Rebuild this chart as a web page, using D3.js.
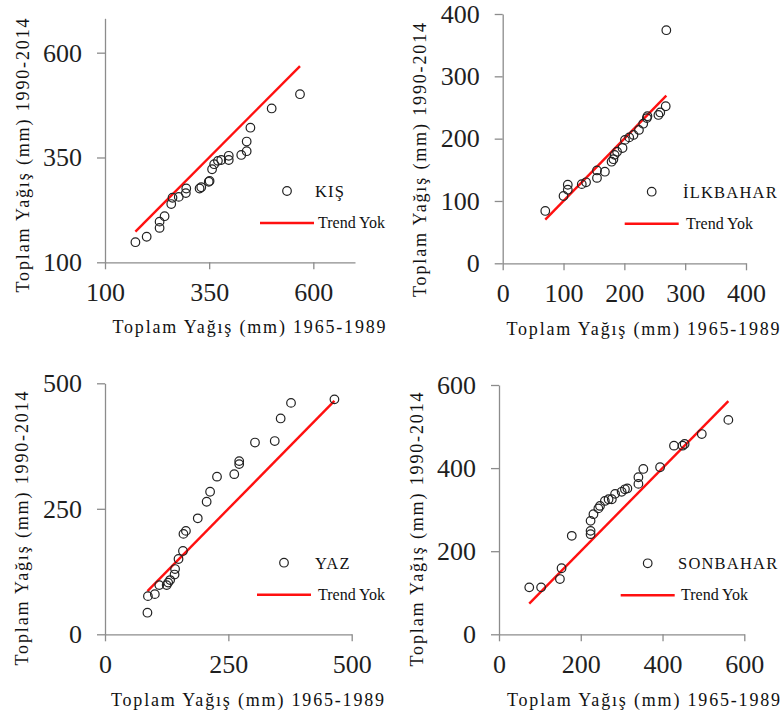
<!DOCTYPE html>
<html>
<head>
<meta charset="utf-8">
<title>Toplam Yağış Q-Q</title>
<style>
  body { margin: 0; background: #fff; }
  svg { display: block; }
  .axis path, .axis line { stroke: #8c8c8c; stroke-width: 1.3px; }
  .axis text { font-family: "Liberation Serif", "DejaVu Serif", serif; font-size: 26px; fill: #1f1f1f; }
  .title { font-family: "Liberation Serif", "DejaVu Serif", serif; font-size: 18px; fill: #111; }
  .leg { font-family: "Liberation Serif", "DejaVu Serif", serif; fill: #111; }
  .pt { fill: none; stroke: #222; stroke-width: 1.2px; }
  .trend { fill: none; stroke: #ff1010; stroke-width: 2.4px; }
</style>
<script src="https://d3js.org/d3.v7.min.js"></script>
</head>
<body>
<svg id="chart" width="783" height="720"></svg>
<script>
// values: 1965-1989 (x) vs 1990-2014 (y), mm
var kisX = [173, 200, 231, 231, 243, 259, 262, 277, 294, 295, 327, 331, 349, 351, 357, 362, 371, 379, 397, 397, 427, 440, 440, 449, 500, 568];
var kisY = [148, 161, 182, 197, 210, 239, 254, 256, 265, 276, 276, 279, 292, 294, 322, 334, 342, 344, 344, 354, 356, 365, 388, 421, 467, 501];

var ilkbaharX = [70, 100, 107, 107, 130, 137, 155, 155, 168, 179, 182, 184, 188, 197, 201, 208, 215, 224, 231, 237, 238, 256, 259, 268, 269];
var ilkbaharY = [84, 108, 118, 126, 127, 130, 137, 149, 147, 163, 167, 174, 179, 185, 198, 202, 206, 214, 224, 233, 236, 238, 242, 252, 374];

var yazX = [86, 87, 101, 110, 125, 128, 132, 141, 142, 149, 158, 159, 164, 188, 206, 213, 227, 262, 272, 272, 304, 344, 356, 377, 465];
var yazY = [43, 76, 80, 98, 98, 103, 108, 119, 130, 150, 166, 200, 206, 231, 264, 284, 314, 319, 339, 345, 382, 385, 430, 461, 468];

var sonbaharX = [74, 103, 149, 153, 178, 224, 224, 224, 231, 243, 247, 259, 268, 276, 284, 300, 308, 314, 341, 341, 353, 394, 428, 449, 454, 496, 561];
var sonbaharY = [113, 113, 133, 159, 237, 241, 249, 273, 289, 303, 309, 321, 325, 325, 338, 343, 349, 351, 362, 378, 398, 402, 454, 454, 458, 482, 516];

var seasonNames = ["KIŞ", "İLKBAHAR", "YAZ", "SONBAHAR"];
var trendName = "Trend Yok";
var xTitle = "Toplam Yağış (mm) 1965-1989";
var yTitle = "Toplam Yağış (mm) 1990-2014";

var kisTicks = [100, 350, 600];
var ilkbaharTicks = [0, 100, 200, 300, 400];
var yazTicks = [0, 250, 500];
var sonbaharTicks = [0, 200, 400, 600];

var svg = d3.select("#chart");

// panel layout (pixels)
var panels = [
  { xs: kisX, ys: kisY, name: seasonNames[0], ticks: kisTicks,
    xDom: [100, 700], yDom: [100, 682], xr: [105, 355], yr: [262.3, 18.3],
    xt: [249, 333], yt: [29, 155.5], leg: [287, 191], legText: 315 },
  { xs: ilkbaharX, ys: ilkbaharY, name: seasonNames[1], ticks: ilkbaharTicks,
    xDom: [0, 400], yDom: [0, 400], xr: [502.7, 746], yr: [263.3, 14],
    xt: [643, 335], yt: [426, 160], leg: [651.7, 191.7], legText: 683 },
  { xs: yazX, ys: yazY, name: seasonNames[2], ticks: yazTicks,
    xDom: [0, 500], yDom: [0, 500], xr: [105, 351.7], yr: [634.3, 383.3],
    xt: [247.5, 706], yt: [28, 528.5], leg: [284, 562.7], legText: 315 },
  { xs: sonbaharX, ys: sonbaharY, name: seasonNames[3], ticks: sonbaharTicks,
    xDom: [0, 600], yDom: [0, 600], xr: [499, 744.3], yr: [634.3, 385],
    xt: [643.5, 706], yt: [423, 529.5], leg: [647.7, 563.3], legText: 678 }
];

panels.forEach(function(p) {
  var x = d3.scaleLinear().domain(p.xDom).range(p.xr);
  var y = d3.scaleLinear().domain(p.yDom).range(p.yr);
  var g = svg.append("g");

  g.append("g")
    .attr("class", "axis")
    .attr("transform", "translate(0," + p.yr[0] + ")")
    .call(d3.axisBottom(x).tickValues(p.ticks).tickSize(7).tickPadding(13).tickSizeOuter(0));

  g.append("g")
    .attr("class", "axis")
    .attr("transform", "translate(" + p.xr[0] + ",0)")
    .call(d3.axisLeft(y).tickValues(p.ticks).tickSize(8).tickPadding(15).tickSizeOuter(0));

  g.selectAll(".axis").attr("font-family", null).attr("font-size", null);

  // 1:1 line over the range of x values
  var ext = d3.extent(p.xs);
  g.append("path")
    .attr("class", "trend")
    .attr("d", d3.line().x(function(d) { return x(d); }).y(function(d) { return y(d); })(ext));

  g.selectAll("circle.pt")
    .data(p.xs.map(function(v, i) { return [v, p.ys[i]]; }))
    .enter().append("circle")
    .attr("class", "pt")
    .attr("r", 4.3)
    .attr("cx", function(d) { return x(d[0]); })
    .attr("cy", function(d) { return y(d[1]); });

  // legend
  g.append("circle").attr("class", "pt").attr("r", 4.3)
    .attr("cx", p.leg[0]).attr("cy", p.leg[1]);
  g.append("text").attr("class", "leg")
    .attr("x", p.legText).attr("y", p.leg[1] + 6)
    .style("font-size", "16.5px").style("letter-spacing", "1.2px")
    .text(p.name);
  g.append("line").attr("class", "trend")
    .attr("x1", p.leg[0] - 27).attr("x2", p.leg[0] + 27)
    .attr("y1", p.leg[1] + 32).attr("y2", p.leg[1] + 32);
  g.append("text").attr("class", "leg")
    .attr("x", p.legText + 3).attr("y", p.leg[1] + 37)
    .style("font-size", "16px")
    .text(trendName);

  // axis titles
  g.append("text").attr("class", "title")
    .attr("x", p.xt[0]).attr("y", p.xt[1])
    .attr("text-anchor", "middle")
    .attr("textLength", 273).attr("lengthAdjust", "spacing")
    .text(xTitle);
  g.append("text").attr("class", "title")
    .attr("transform", "translate(" + p.yt[0] + "," + p.yt[1] + ") rotate(-90)")
    .attr("text-anchor", "middle")
    .attr("textLength", 274).attr("lengthAdjust", "spacing")
    .text(yTitle);
});
</script>
</body>
</html>
